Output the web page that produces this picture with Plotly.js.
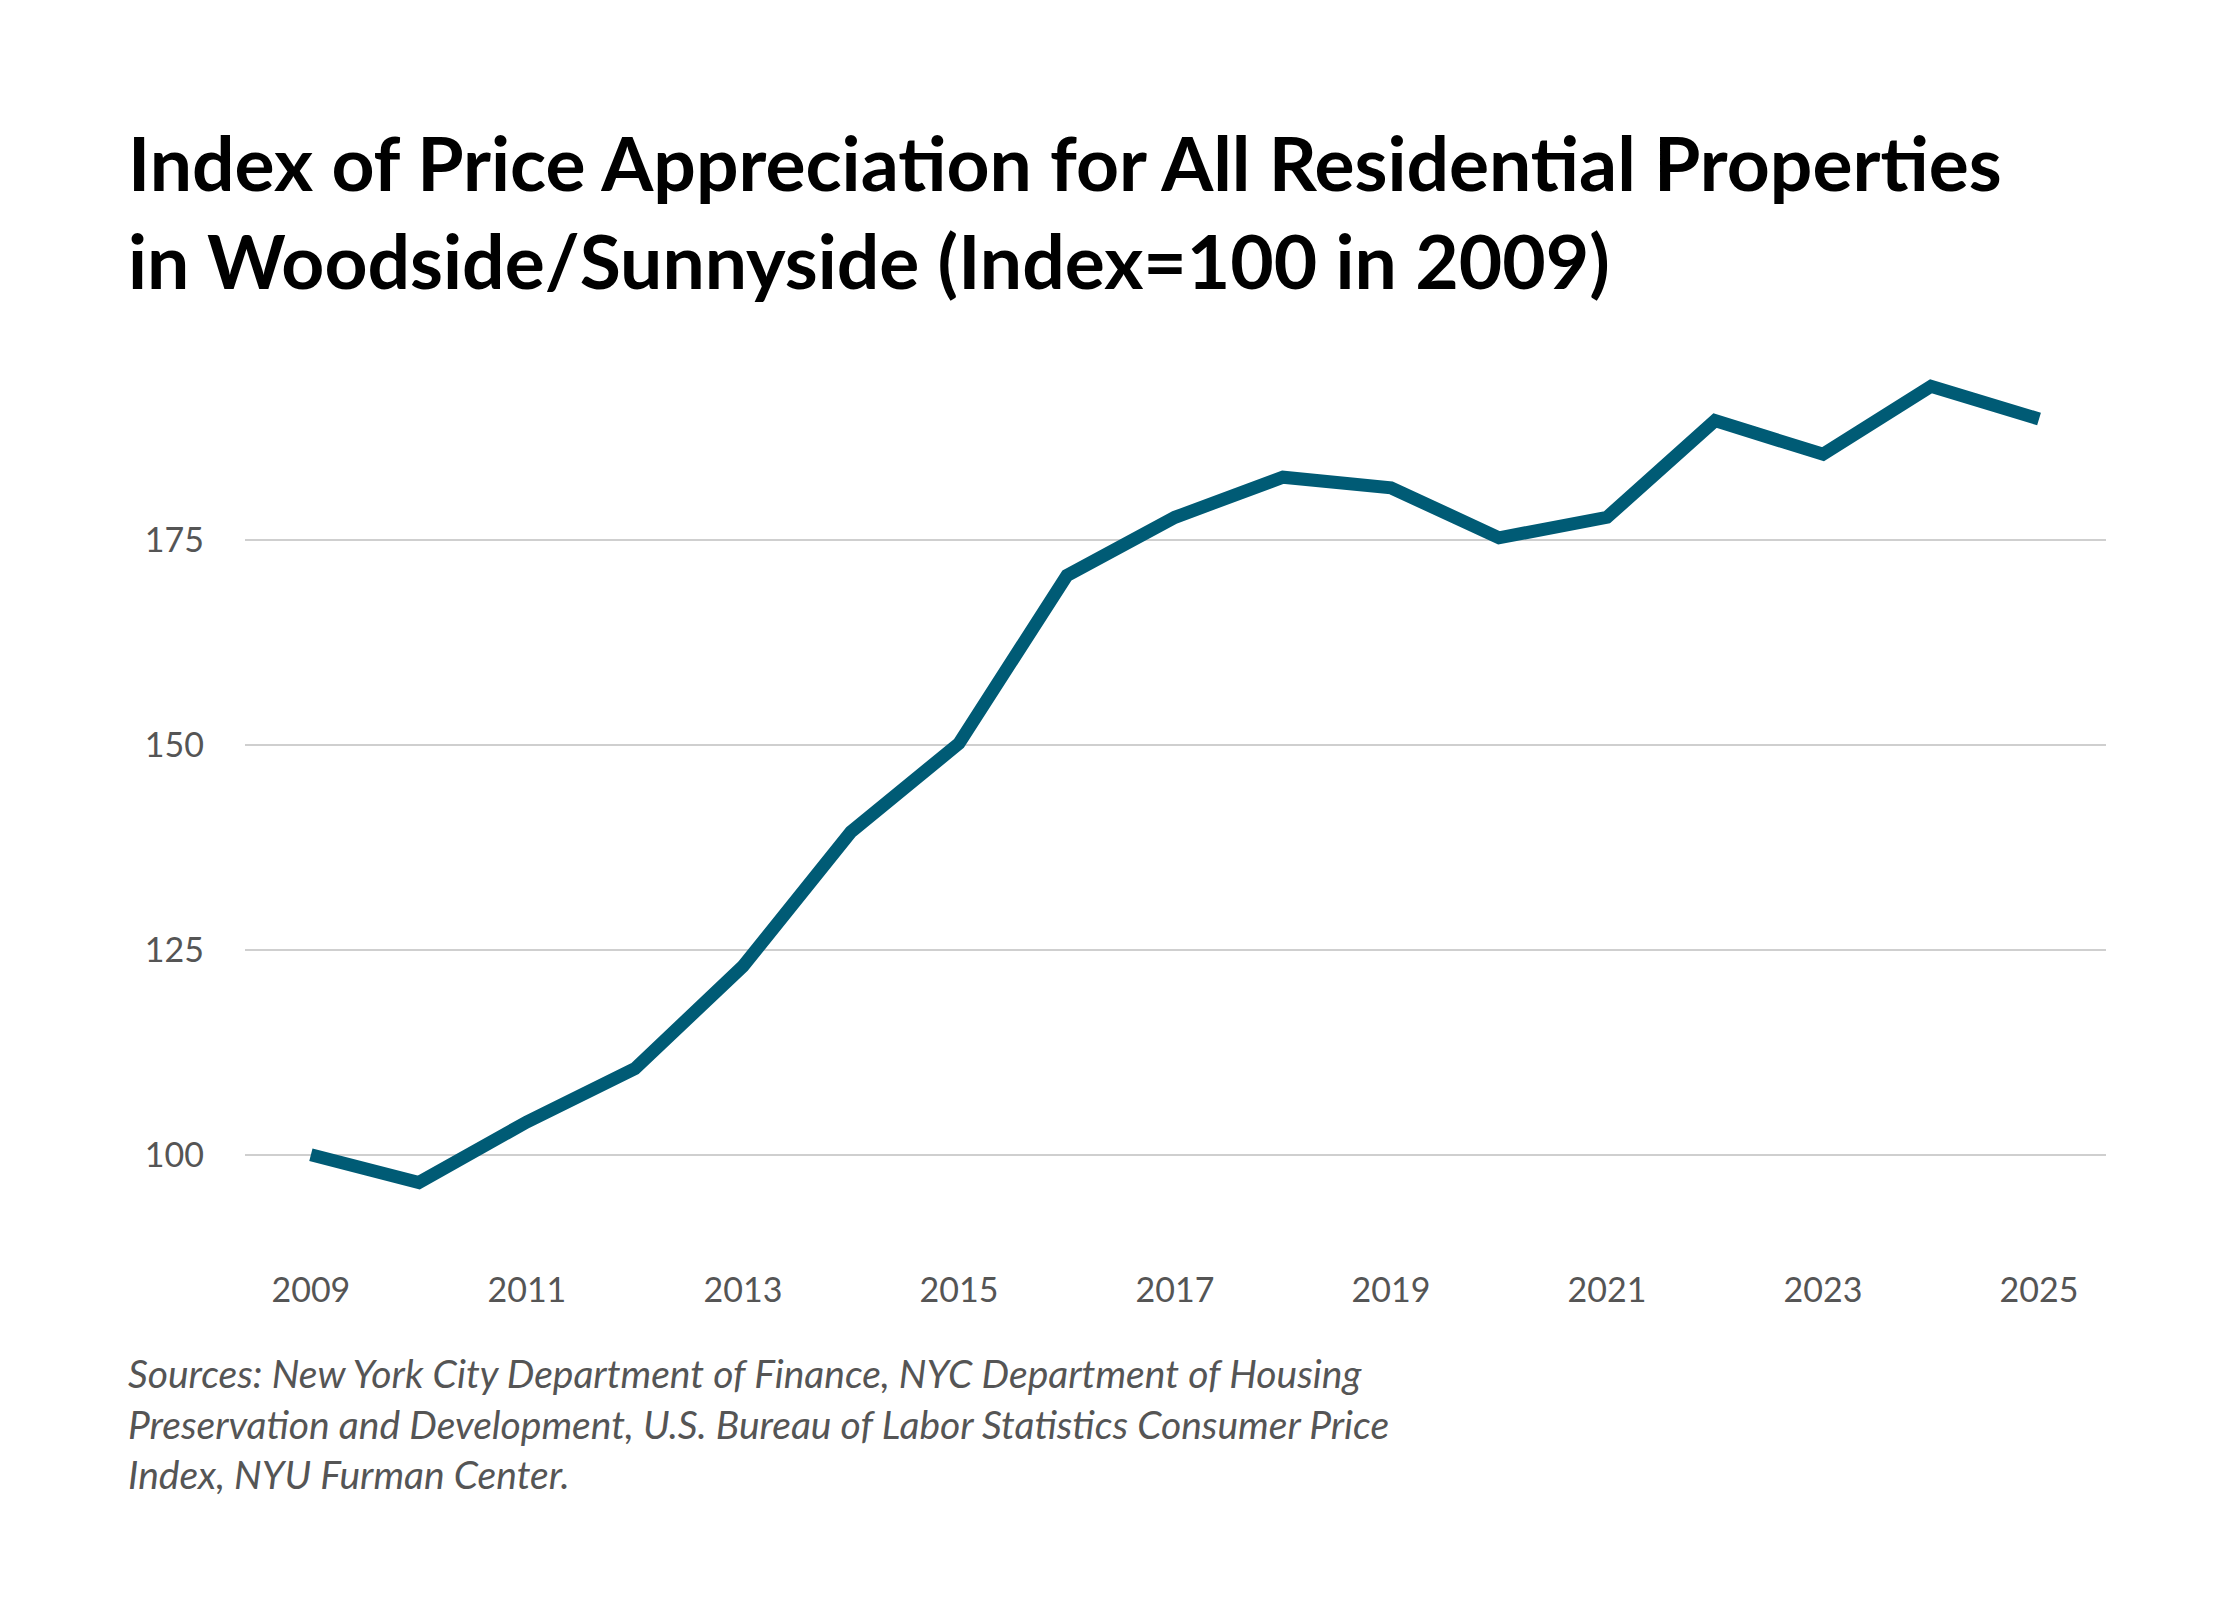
<!DOCTYPE html>
<html><head><meta charset="utf-8">
<script src="https://cdn.plot.ly/plotly-3.0.1.min.js"></script>
<style>body{margin:0;background:#fff}</style></head>
<body><div id="chart" style="width:2240px;height:1600px"></div>
<script>
const years = [2009,2010,2011,2012,2013,2014,2015,2016,2017,2018,2019,2020,2021,2022,2023,2024,2025];
const indexValues = [100,96.6,104,110.5,123,139.4,150.2,170.7,177.8,182.7,181.4,175.3,177.8,189.6,185.5,193.8,189.8];
const xTicks = [2009,2011,2013,2015,2017,2019,2021,2023,2025];
const yTicks = [100,125,150,175];

Plotly.newPlot('chart', [{
  x: years, y: indexValues, type: 'scatter', mode: 'lines',
  line: {color: '#005b75', width: 13}, hoverinfo: 'skip'
}], {
  width: 2240, height: 1600, paper_bgcolor: '#fff', plot_bgcolor: '#fff',
  margin: {l: 245, r: 134, t: 360, b: 347},
  showlegend: false,
  xaxis: {range: [2008.39, 2025.62], tickvals: xTicks, showgrid: false, zeroline: false, showline: false,
    ticks: '', ticklen: 0, ticklabelstandoff: 14, tickfont: {family: 'Lato, sans-serif', size: 34, color: '#555'}},
  yaxis: {range: [88, 197], tickvals: yTicks, showgrid: true, gridcolor: '#cfcfcf', gridwidth: 2,
    zeroline: false, showline: false, ticks: '', ticklabelstandoff: 40,
    tickfont: {family: 'Lato, sans-serif', size: 34, color: '#555'}},
  annotations: [
    {xref: 'paper', yref: 'paper', x: -0.064, y: 1.0, yshift: 245, xanchor: 'left', yanchor: 'top', align: 'left',
     showarrow: false, text: '<b>Index of Price Appreciation for All Residential Properties<br>in Woodside/Sunnyside (Index=100 in 2009)</b>',
     font: {family: 'Lato, sans-serif', size: 75, color: '#000'}},
    {xref: 'paper', yref: 'paper', x: -0.064, y: 0, yshift: -95, xanchor: 'left', yanchor: 'top', align: 'left',
     showarrow: false, text: '<i>Sources: New York City Department of Finance, NYC Department of Housing<br>Preservation and Development, U.S. Bureau of Labor Statistics Consumer Price<br>Index, NYU Furman Center.</i>',
     font: {family: 'Lato, sans-serif', size: 39, color: '#555'}}
  ]
}, {displayModeBar: false});
</script></body></html>
